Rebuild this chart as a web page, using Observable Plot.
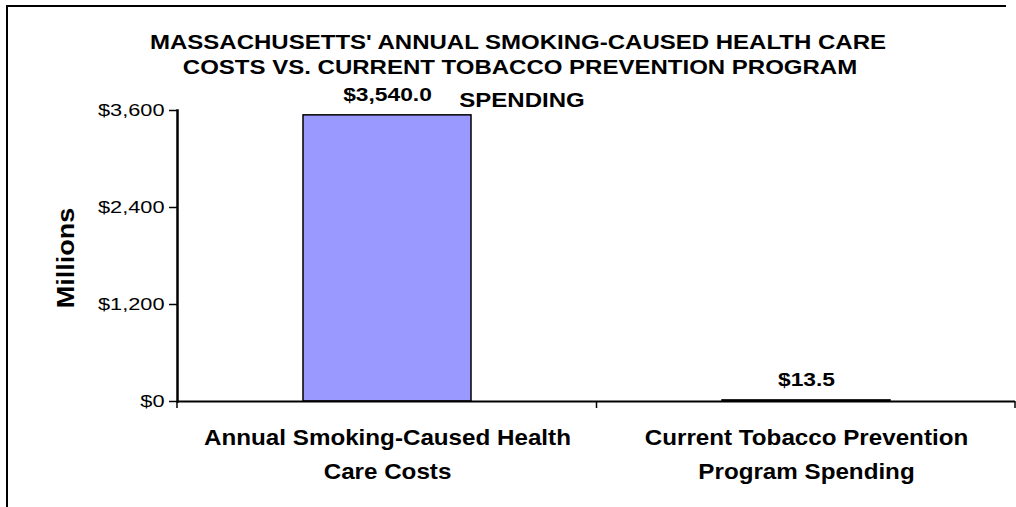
<!DOCTYPE html>
<html>
<head>
<meta charset="utf-8">
<script src="https://cdn.jsdelivr.net/npm/d3@7"></script>
<script src="https://cdn.jsdelivr.net/npm/@observablehq/plot@0.6"></script>
<style>
  html, body { margin: 0; padding: 0; background: #fff; }
  #wrap { position: relative; width: 1016px; height: 507px; overflow: hidden; font-family: "Liberation Sans", Arial, sans-serif; }
  #frame { position: absolute; left: 6px; top: 5px; width: 1000px; height: 520px; border-left: 2px solid #000; border-top: 2px solid #000; box-sizing: border-box; }
  .title { position: absolute; left: 0; width: 0; font-weight: bold; font-size: 20px; color: #000; white-space: nowrap; line-height: 1; }
  .title span { position: absolute; left: 0; top: 0; transform: translate(-50%, -50%) scale(1.2, 1); }
  #ylab { position: absolute; left: 67px; top: 258px; transform: translate(-50%, -50%) rotate(-90deg) scale(1, 0.86); font-weight: bold; font-size: 27px; white-space: nowrap; line-height: 1; }
  svg { position: absolute; left: 0; top: 0; }
</style>
</head>
<body>
<div id="wrap">
  <div id="frame"></div>
</div>
<script>
const categories = ["Annual Smoking-Caused Health Care Costs", "Current Tobacco Prevention Program Spending"];
const axisLabels = ["Annual Smoking-Caused Health\nCare Costs", "Current Tobacco Prevention\nProgram Spending"];
const values = [3540.0, 13.5];
const yTicks = [0, 1200, 2400, 3600];
const titleLines = ["MASSACHUSETTS' ANNUAL SMOKING-CAUSED HEALTH CARE", "COSTS VS. CURRENT TOBACCO PREVENTION PROGRAM", "SPENDING"];
const yLabel = "Millions";

const data = categories.map((c, i) => ({cat: c, value: values[i], label: axisLabels[i]}));
const money = d => "$" + d3.format(",")(d);
const money1 = d => "$" + d3.format(",.1f")(d);

// custom mark: x-axis ticks at band boundaries
function boundaryTicks(index, scales, values, dimensions) {
  const x = scales.x;
  const step = x.step ? x.step() : 0;
  const bw = x.bandwidth ? x.bandwidth() : 0;
  const pad = (step - bw) / 2;
  const y0 = dimensions.height - dimensions.marginBottom;
  const xs = [dimensions.marginLeft];
  categories.forEach((c, i) => {
    xs.push(i === categories.length - 1 ? dimensions.width - dimensions.marginRight : x(c) - pad + step);
  });
  const g = d3.create("svg:g").attr("stroke", "#000").attr("stroke-width", 1.5);
  xs.forEach(v => g.append("line").attr("x1", v).attr("x2", v).attr("y1", y0).attr("y2", y0 + 7));
  return g.node();
}

const chart = Plot.plot({
  width: 1016,
  height: 507,
  marginLeft: 177,
  marginRight: 1,
  marginTop: 110,
  marginBottom: 106,
  style: {fontFamily: "Liberation Sans, Arial, sans-serif", background: "transparent", color: "#000"},
  x: {type: "band", domain: categories, paddingInner: 0.6, paddingOuter: 0.3, axis: null},
  y: {domain: [0, 3600], axis: null},
  marks: [
    Plot.barY(data, {x: "cat", y: "value", fill: "#9999FF", stroke: "#000", strokeWidth: 1.5}),
    Plot.axisY({ticks: yTicks, tickFormat: money, tickSize: 8, tickPadding: 5, fontSize: 17, strokeWidth: 1.5, label: null}),
    Plot.frame({anchor: "left", stroke: "#000", strokeWidth: 2.5}),
    Plot.ruleY([0], {stroke: "#000", strokeWidth: 2}),
    boundaryTicks,
    Plot.text(data, {x: "cat", y: "value", text: d => money1(d.value), lineAnchor: "middle", dy: -20, fontSize: 19, fontWeight: "bold", fill: "#000"}),
    Plot.text(data, {x: "cat", frameAnchor: "bottom", text: "label", lineAnchor: "middle", dy: 50, lineHeight: 1.545, fontSize: 22, fontWeight: "bold", fill: "#000"})
  ]
});

// horizontal stretch of glyphs about their anchor points (matches the reference's wide lettering)
function stretch(nodes, s) {
  nodes.forEach(t => {
    const x = parseFloat(t.getAttribute("x")) || 0;
    const tr = t.getAttribute("transform") || "";
    t.setAttribute("transform", `${tr} translate(${x},0) scale(${s},1) translate(${-x},0)`);
  });
}
stretch(chart.querySelectorAll('g[aria-label="y-axis tick label"] text'), 1.28);
const textGroups = chart.querySelectorAll('g[aria-label="text"]');
if (textGroups[0]) stretch(textGroups[0].querySelectorAll("text"), 1.2);
if (textGroups[1]) stretch(textGroups[1].querySelectorAll("text"), 1.1);

const wrap = document.getElementById("wrap");
wrap.appendChild(chart);

const centers = [518, 520, 522];
const mids = [42, 67, 100];
titleLines.forEach((t, i) => {
  const d = document.createElement("div");
  d.className = "title";
  d.style.left = centers[i] + "px";
  d.style.top = mids[i] + "px";
  const s = document.createElement("span");
  s.textContent = t;
  d.appendChild(s);
  wrap.appendChild(d);
});
const yl = document.createElement("div");
yl.id = "ylab";
yl.textContent = yLabel;
wrap.appendChild(yl);
</script>
</body>
</html>
